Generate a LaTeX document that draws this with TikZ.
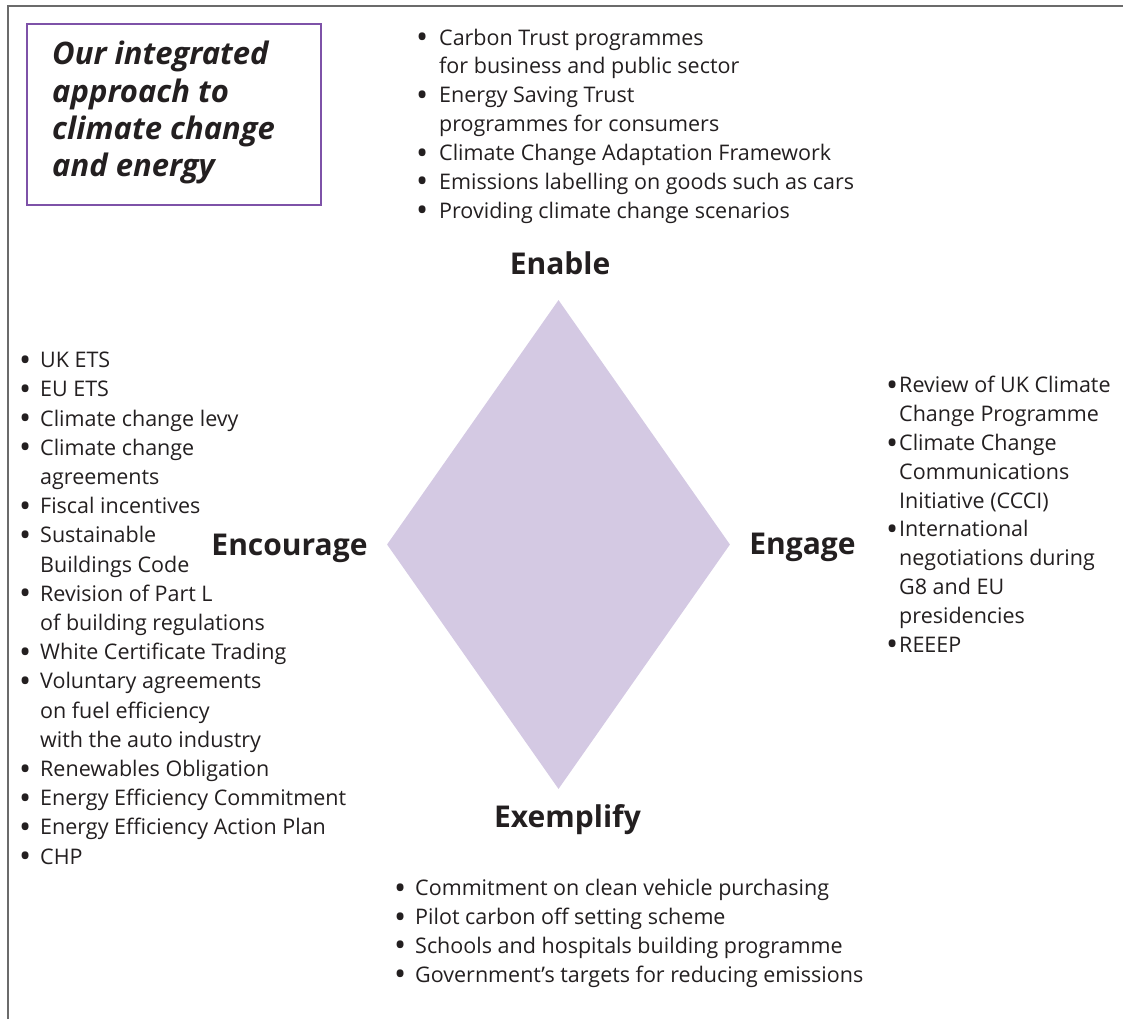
\documentclass[tikz,border=0pt]{standalone}
\usepackage{fontspec}
\setmainfont{Open Sans}
\usetikzlibrary{shapes.geometric,positioning}

\definecolor{framegray}{HTML}{6B6B6B}
\definecolor{titlepurple}{HTML}{7E52A8}
\definecolor{hubfill}{HTML}{D4C9E3}
\definecolor{inkdark}{HTML}{231F20}

% bullet line and continuation line
\newcommand\bigbullet{\raisebox{-0.17em}{\scalebox{1.5}{\textbullet}}}
\newcommand\itm[2][21pt]{\makebox[#1][l]{\bigbullet}#2}
\newcommand\cnt[2][21pt]{\hspace*{#1}#2}

\tikzset{
  bodytext/.style={font=\fontsize{21.5}{28.8}\selectfont, text=inkdark, align=left, inner sep=0pt, anchor=base west},
  headtext/.style={font=\fontsize{30}{36}\selectfont\bfseries, text=inkdark, inner sep=0pt, anchor=base},
  titletext/.style={font=\fontsize{31}{37.4}\selectfont\bfseries\itshape, text=inkdark, align=left, inner sep=0pt, anchor=base west},
  titlebox/.style={draw=titlepurple, line width=1.4pt, inner sep=0pt, minimum width=294pt, minimum height=181pt},
}

\begin{document}
\begin{tikzpicture}[x=1pt,y=-1pt]
        \useasboundingbox (0,0) rectangle (1123,1019);
        % outer frame, top and left only
        \draw [framegray, line width=2pt] (8,1019) -- (8,6) -- (1123,6);
        % title (base anchor sits on the last line)
        \node [titlebox] (tbox) at (174,114.5) {};
        \node [titletext] (title) at (52,177) {Our integrated\\approach to\\climate change\\and energy};
        % the diamond
        \node [diamond, fill=hubfill, inner sep=0pt, minimum width=343pt, minimum height=489pt] (hub) at (558.5,544.5) {};
        % the four E's
        \node [headtext] (enable) at (560,274) {Enable};
        \node [headtext] (encourage) at (289.5,555) {Encourage};
        \node [headtext] (engage) at (802.5,554) {Engage};
        \node [headtext] (exemplify) at (567.5,827) {Exemplify};
        % lists
        \node [bodytext] (enablelist) at (416,218) {%
          \itm[23pt]{Carbon Trust programmes}\\
          \cnt[23pt]{for business and public sector}\\
          \itm[23pt]{Energy Saving Trust}\\
          \cnt[23pt]{programmes for consumers}\\
          \itm[23pt]{Climate Change Adaptation Framework}\\
          \itm[23pt]{Emissions labelling on goods such as cars}\\
          \itm[23pt]{Providing climate change scenarios}};
        \node [bodytext, font=\fontsize{21.5}{29.2}\selectfont] (encouragelist) at (19,864) {%
          \itm{UK ETS}\\
          \itm{EU ETS}\\
          \itm{Climate change levy}\\
          \itm{Climate change}\\
          \cnt{agreements}\\
          \itm{Fiscal incentives}\\
          \itm{Sustainable}\\
          \cnt{Buildings Code}\\
          \itm{Revision of Part L}\\
          \cnt{of building regulations}\\
          \itm{White Certificate Trading}\\
          \itm{Voluntary agreements}\\
          \cnt{on fuel efficiency}\\
          \cnt{with the auto industry}\\
          \itm{Renewables Obligation}\\
          \itm{Energy Efficiency Commitment}\\
          \itm{Energy Efficiency Action Plan}\\
          \itm{CHP}};
        \node [bodytext] (engagelist) at (886,652) {%
          \itm[13pt]{Review of UK Climate}\\
          \cnt[13pt]{Change Programme}\\
          \itm[13pt]{Climate Change}\\
          \cnt[13pt]{Communications}\\
          \cnt[13pt]{Initiative (CCCI)}\\
          \itm[13pt]{International}\\
          \cnt[13pt]{negotiations during}\\
          \cnt[13pt]{G8 and EU}\\
          \cnt[13pt]{presidencies}\\
          \itm[13pt]{REEEP}};
        \node [bodytext] (exemplifylist) at (394,982) {%
          \itm{Commitment on clean vehicle purchasing}\\
          \itm{Pilot carbon off setting scheme}\\
          \itm{Schools and hospitals building programme}\\
          \itm{Government’s targets for reducing emissions}};
\end{tikzpicture}
\end{document}
